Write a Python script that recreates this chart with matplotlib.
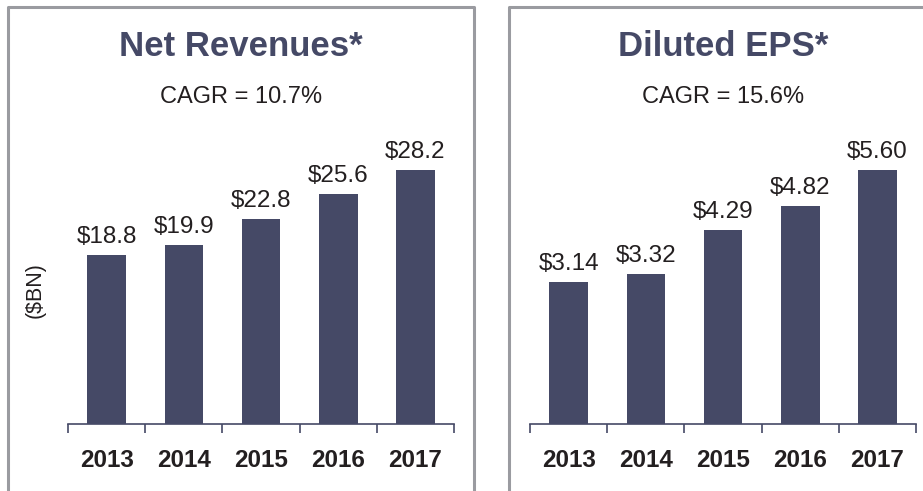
import numpy as np
import matplotlib
matplotlib.use("Agg")
import matplotlib.pyplot as plt
from matplotlib.lines import Line2D

plt.rcParams['font.family'] = ['Liberation Sans', 'DejaVu Sans']

# data
years = ['2013', '2014', '2015', '2016', '2017']
net_revenues = [18.8, 19.9, 22.8, 25.6, 28.2]
rev_labels = ['$18.8', '$19.9', '$22.8', '$25.6', '$28.2']
diluted_eps = [3.14, 3.32, 4.29, 4.82, 5.60]
eps_labels = ['$3.14', '$3.32', '$4.29', '$4.82', '$5.60']
titles = ['Net Revenues*', 'Diluted EPS*']
cagr = ['CAGR = 10.7%', 'CAGR = 15.6%']

W, H = 923, 491
bar_col = '#454966'
txt_col = '#231f20'
box_col = '#9a9ba0'

fig = plt.figure(figsize=(W/100, H/100), dpi=100)

def px(x0, y0, x1, y1):
    # pixel box (top-left origin) -> figure fraction rect
    return [x0/W, (H-y1)/H, (x1-x0)/W, (y1-y0)/H]

def panel(rect, vals, labs, ymax):
    ax = fig.add_axes(rect)
    x = np.arange(len(vals))
    ax.bar(x, vals, width=0.5, color=bar_col)
    for i in range(len(vals)):
        ax.annotate(labs[i], (x[i], vals[i]), xytext=(0, 5), textcoords='offset points',
                    ha='center', va='bottom', fontsize=17.5, color=txt_col)
    ax.set_xlim(-0.5, len(vals)-0.5)
    ax.set_ylim(0, ymax)
    for s in ['top', 'right', 'left']:
        ax.spines[s].set_visible(False)
    ax.spines['bottom'].set_color(bar_col)
    ax.spines['bottom'].set_linewidth(1.2)
    ax.set_yticks([])
    ax.set_xticks(x)
    ax.set_xticklabels(years, fontsize=17.5, fontweight='bold', color=txt_col)
    ax.tick_params(axis='x', which='major', length=0, pad=18)
    ax.set_xticks(np.arange(-0.5, len(vals)), minor=True)
    ax.tick_params(axis='x', which='minor', length=6.5, width=1.2, color=bar_col, direction='out')
    ax.patch.set_alpha(0)
    return ax

# baseline at y=424 px, scale picked from bar heights
ax1 = panel(px(68, 100, 454, 424), net_revenues, rev_labels, 324/9.0)
ax2 = panel(px(530, 100, 916, 424), diluted_eps, eps_labels, 324/45.3)

# panel boxes (open at the bottom)
def box(x0, x1, y0=7):
    xs = [x0/W, x0/W, x1/W, x1/W]
    ys = [0, (H-y0)/H, (H-y0)/H, 0]
    fig.add_artist(Line2D(xs, ys, color=box_col, lw=2.2, transform=fig.transFigure))

box(8, 474)
box(509, 940)

centers = [241, 723]
for i in range(2):
    fig.text(centers[i]/W, (H-47)/H, titles[i], ha='center', va='center',
             fontsize=25, fontweight='bold', color=bar_col)
    fig.text(centers[i]/W, (H-97)/H, cagr[i], ha='center', va='center',
             fontsize=17, color=txt_col)

fig.text(35/W, (H-290)/H, '($BN)', rotation=90, ha='center', va='center',
         fontsize=15.5, color=txt_col)

fig.savefig('out.png', dpi=100)
